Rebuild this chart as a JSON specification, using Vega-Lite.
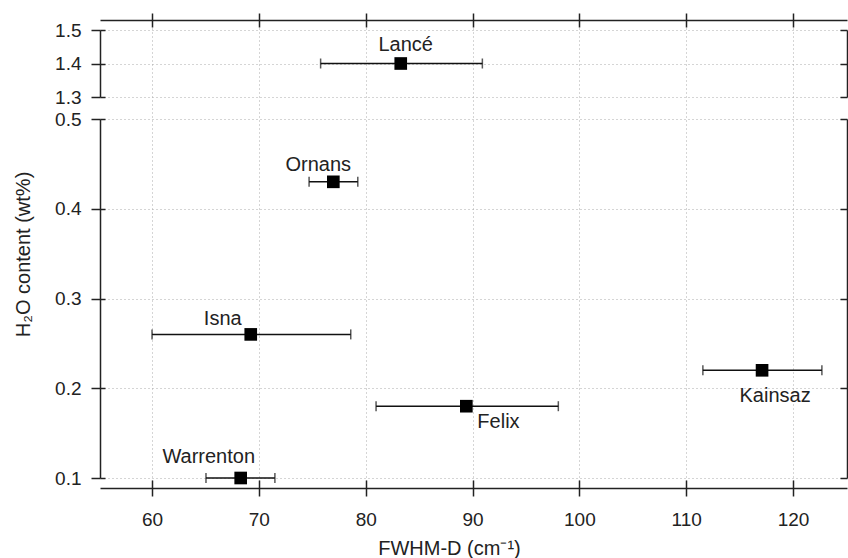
{
  "$schema": "https://vega.github.io/schema/vega-lite/v6.json",
  "width": 747,
  "height": 468,
  "autosize": {"type": "none"},
  "padding": {"left": 100, "top": 20, "right": 1, "bottom": 70},
  "background": "white",
  "config": {
    "view": {"stroke": null},
    "font": "Liberation Sans",
    "axis": {
      "domainColor": "#222", "domainWidth": 1.5,
      "tickColor": "#222", "tickWidth": 1.5,
      "labelColor": "#222", "labelFont": "Liberation Sans", "labelFontSize": 19,
      "titleColor": "#222", "titleFont": "Liberation Sans", "titleFontSize": 20, "titleFontWeight": "normal",
      "gridColor": "#aaaaaa", "gridDash": [1, 3], "gridWidth": 1
    }
  },
  "data": {
    "values": [
      {"name": "Lancé", "fwhm": 83.28, "lo": 75.78, "hi": 90.92, "h2o": 1.4},
      {"name": "Ornans", "fwhm": 76.97, "lo": 74.7, "hi": 79.26, "h2o": 0.43},
      {"name": "Isna", "fwhm": 69.24, "lo": 60.0, "hi": 78.6, "h2o": 0.26},
      {"name": "Kainsaz", "fwhm": 117.1, "lo": 111.56, "hi": 122.7, "h2o": 0.22},
      {"name": "Felix", "fwhm": 89.42, "lo": 80.97, "hi": 98.03, "h2o": 0.18},
      {"name": "Warrenton", "fwhm": 68.3, "lo": 65.05, "hi": 71.5, "h2o": 0.1}
    ]
  },
  "layer": [
    {
      "transform": [{"filter": "datum.h2o < 1"}],
      "encoding": {
        "x": {"field": "fwhm", "type": "quantitative", "title": "FWHM-D (cm⁻¹)",
          "scale": {"domain": [55.13, 125.05], "nice": false, "zero": false},
          "axis": {"orient": "bottom", "values": [60, 70, 80, 90, 100, 110, 120], "grid": false,
            "tickSize": 8, "labelPadding": 14, "titleX": 349, "titleY": 60, "titleAlign": "center", "titleBaseline": "middle"}},
        "y": {"field": "h2o", "type": "quantitative", "title": "H₂O content (wt%)",
          "scale": {"domain": [0.1, 0.5], "range": [458, 99], "nice": false, "zero": false},
          "axis": {"orient": "left", "values": [0.1, 0.2, 0.3, 0.4, 0.5], "format": ".1f", "grid": true,
            "tickSize": 9, "labelPadding": 10, "titleX": -77, "titleY": 234, "titleAngle": 270,
            "titleAlign": "center", "titleBaseline": "middle"}}
      },
      "layer": [
        {"mark": {"type": "rule", "color": "#111", "strokeWidth": 1.5},
          "encoding": {"x": {"field": "lo", "type": "quantitative", "title": "FWHM-D (cm⁻¹)", "scale": {"domain": [55.13, 125.05], "nice": false, "zero": false}},
            "x2": {"field": "hi"}}},
        {"mark": {"type": "tick", "orient": "vertical", "color": "#111", "size": 10, "thickness": 1.5},
          "encoding": {"x": {"field": "lo", "type": "quantitative", "title": "FWHM-D (cm⁻¹)", "scale": {"domain": [55.13, 125.05], "nice": false, "zero": false}}}},
        {"mark": {"type": "tick", "orient": "vertical", "color": "#111", "size": 10, "thickness": 1.5},
          "encoding": {"x": {"field": "hi", "type": "quantitative", "title": "FWHM-D (cm⁻¹)", "scale": {"domain": [55.13, 125.05], "nice": false, "zero": false}}}},
        {"mark": {"type": "point", "shape": "square", "filled": true, "color": "black", "opacity": 1, "size": 160}},
        {"transform": [{"filter": "datum.name == 'Ornans'"}],
          "mark": {"type": "text", "fontSize": 20, "color": "#222", "align": "center", "baseline": "alphabetic", "dx": -15, "dy": -11},
          "encoding": {"text": {"field": "name"}}},
        {"transform": [{"filter": "datum.name == 'Isna'"}],
          "mark": {"type": "text", "fontSize": 20, "color": "#222", "align": "center", "baseline": "alphabetic", "dx": -28, "dy": -9},
          "encoding": {"text": {"field": "name"}}},
        {"transform": [{"filter": "datum.name == 'Felix'"}],
          "mark": {"type": "text", "fontSize": 20, "color": "#222", "align": "left", "baseline": "alphabetic", "dx": 11, "dy": 22},
          "encoding": {"text": {"field": "name"}}},
        {"transform": [{"filter": "datum.name == 'Warrenton'"}],
          "mark": {"type": "text", "fontSize": 20, "color": "#222", "align": "center", "baseline": "alphabetic", "dx": -32, "dy": -15},
          "encoding": {"text": {"field": "name"}}},
        {"transform": [{"filter": "datum.name == 'Kainsaz'"}],
          "mark": {"type": "text", "fontSize": 20, "color": "#222", "align": "center", "baseline": "alphabetic", "dx": 13, "dy": 32},
          "encoding": {"text": {"field": "name"}}}
      ]
    },
    {
      "transform": [{"filter": "datum.h2o > 1"}],
      "encoding": {
        "x": {"field": "fwhm", "type": "quantitative",
          "scale": {"domain": [55.13, 125.05], "nice": false, "zero": false},
          "axis": {"orient": "top", "values": [60, 70, 80, 90, 100, 110, 120], "grid": false, "labels": false, "tickSize": 7, "title": null}},
        "y": {"field": "h2o", "type": "quantitative",
          "scale": {"domain": [1.3, 1.5], "range": [77, 10], "nice": false, "zero": false},
          "axis": {"orient": "left", "values": [1.3, 1.4, 1.5], "format": ".1f", "grid": true,
            "tickSize": 9, "labelPadding": 10, "title": null}}
      },
      "layer": [
        {"mark": {"type": "rule", "color": "#111", "strokeWidth": 1.5},
          "encoding": {"x": {"field": "lo", "type": "quantitative", "title": null, "scale": {"domain": [55.13, 125.05], "nice": false, "zero": false}},
            "x2": {"field": "hi"}}},
        {"mark": {"type": "tick", "orient": "vertical", "color": "#111", "size": 10, "thickness": 1.5},
          "encoding": {"x": {"field": "lo", "type": "quantitative", "title": null, "scale": {"domain": [55.13, 125.05], "nice": false, "zero": false}}}},
        {"mark": {"type": "tick", "orient": "vertical", "color": "#111", "size": 10, "thickness": 1.5},
          "encoding": {"x": {"field": "hi", "type": "quantitative", "title": null, "scale": {"domain": [55.13, 125.05], "nice": false, "zero": false}}}},
        {"mark": {"type": "point", "shape": "square", "filled": true, "color": "black", "opacity": 1, "size": 160}},
        {"mark": {"type": "text", "fontSize": 20, "color": "#222", "align": "center", "baseline": "alphabetic", "dx": 5, "dy": -13},
          "encoding": {"text": {"field": "name"}}}
      ]
    },
    {
      "transform": [{"filter": "datum.h2o < 1"}],
      "mark": {"type": "point", "opacity": 0},
      "encoding": {
        "x": {"field": "fwhm", "type": "quantitative", "scale": {"domain": [55.13, 125.05], "nice": false, "zero": false}, "axis": null},
        "y": {"field": "h2o", "type": "quantitative",
          "scale": {"domain": [0.1, 0.5], "range": [458, 99], "nice": false, "zero": false},
          "axis": {"orient": "right", "values": [0.1, 0.2, 0.3, 0.4, 0.5], "labels": false, "grid": false, "tickSize": -7, "title": null}}
      }
    },
    {
      "transform": [{"filter": "datum.h2o > 1"}],
      "mark": {"type": "point", "opacity": 0},
      "encoding": {
        "x": {"field": "fwhm", "type": "quantitative", "scale": {"domain": [55.13, 125.05], "nice": false, "zero": false}, "axis": null},
        "y": {"field": "h2o", "type": "quantitative",
          "scale": {"domain": [1.3, 1.5], "range": [77, 10], "nice": false, "zero": false},
          "axis": {"orient": "right", "values": [1.3, 1.4, 1.5], "labels": false, "grid": false, "tickSize": -7, "title": null}}
      }
    },
    {
      "transform": [{"filter": "datum.h2o < 1"}],
      "mark": {"type": "point", "opacity": 0},
      "encoding": {
        "x": {"field": "fwhm", "type": "quantitative", "scale": {"domain": [55.13, 125.05], "nice": false, "zero": false}, "axis": null},
        "y": {"field": "h2o", "type": "quantitative",
          "scale": {"domain": [0.1, 0.5], "range": [458, 99], "nice": false, "zero": false},
          "axis": {"orient": "left", "values": [0.1, 0.2, 0.3, 0.4, 0.5], "labels": false, "grid": false, "domain": false, "tickSize": -5, "title": null}}
      }
    },
    {
      "transform": [{"filter": "datum.h2o > 1"}],
      "mark": {"type": "point", "opacity": 0},
      "encoding": {
        "x": {"field": "fwhm", "type": "quantitative", "scale": {"domain": [55.13, 125.05], "nice": false, "zero": false},
          "axis": {"orient": "top", "values": [60, 70, 80, 90, 100, 110, 120], "grid": false, "domain": false, "labels": false, "tickSize": -7, "title": null}},
        "y": {"field": "h2o", "type": "quantitative",
          "scale": {"domain": [1.3, 1.5], "range": [77, 10], "nice": false, "zero": false},
          "axis": {"orient": "left", "values": [1.3, 1.4, 1.5], "labels": false, "grid": false, "domain": false, "tickSize": -5, "title": null}}
      }
    },
    {
      "mark": {"type": "point", "opacity": 0},
      "encoding": {
        "x": {"field": "fwhm", "type": "quantitative", "scale": {"domain": [55.13, 125.05], "nice": false, "zero": false},
          "axis": {"orient": "bottom", "values": [60, 70, 80, 90, 100, 110, 120], "grid": true, "domain": false, "ticks": true, "tickSize": -8, "labels": false, "title": null}},
        "y": {"field": "h2o", "type": "quantitative", "scale": {"domain": [0, 2]}, "axis": null}
      }
    }
  ],
  "resolve": {"scale": {"x": "independent", "y": "independent"}}
}
